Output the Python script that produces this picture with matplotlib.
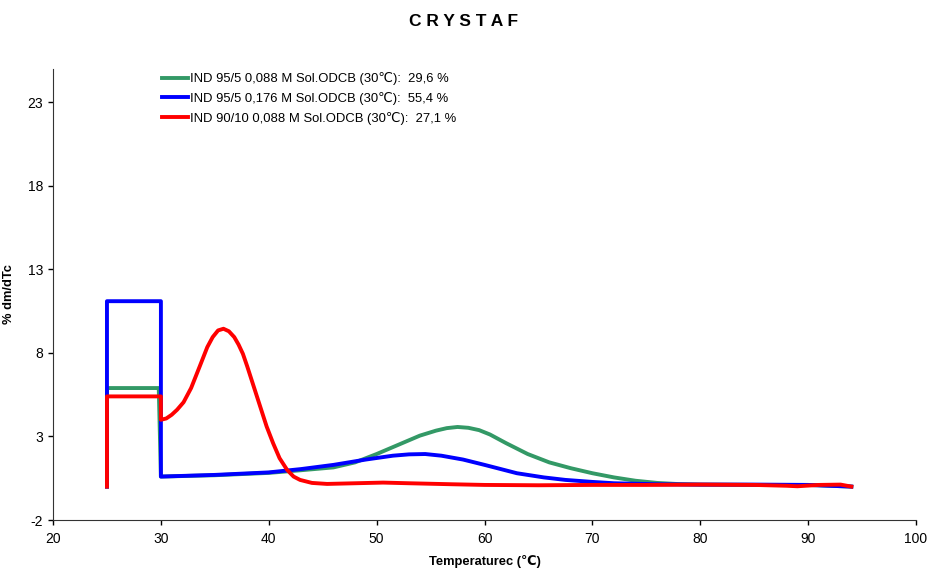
import matplotlib
matplotlib.use("Agg")
from matplotlib import pyplot as plt

plt.rcParams["font.family"] = ["Liberation Sans", "DejaVu Sans"]
plt.rcParams["axes.unicode_minus"] = False

# values
green_label = "IND 95/5 0,088 M Sol.ODCB (30℃):  29,6 %"
green_x = [25, 25, 29.8, 30, 35, 40, 43, 46, 48, 50, 52, 54, 55.5, 56.5, 57.5, 58.5, 59.5,
           60.5, 62, 64, 66, 68, 70, 72, 74, 76, 78, 80, 85, 90, 94]
green_y = [0.0, 5.9, 5.9, 0.6, 0.68, 0.82, 0.98, 1.15, 1.45, 1.95, 2.5, 3.05, 3.35, 3.5,
           3.57, 3.52, 3.38, 3.12, 2.6, 1.95, 1.45, 1.1, 0.8, 0.55, 0.35, 0.22, 0.15,
           0.12, 0.1, 0.1, 0.0]

blue_label = "IND 95/5 0,176 M Sol.ODCB (30℃):  55,4 %"
blue_x = [25, 25, 30, 30, 35, 40, 43, 46, 49, 51.5, 53, 54.5, 56, 58, 60, 63, 65.5, 67.5,
          70, 72, 76, 80, 85, 90, 94]
blue_y = [0.0, 11.1, 11.1, 0.6, 0.7, 0.85, 1.05, 1.3, 1.62, 1.85, 1.93, 1.95, 1.85, 1.62,
          1.3, 0.8, 0.55, 0.4, 0.28, 0.2, 0.14, 0.12, 0.12, 0.1, 0.0]

red_label = "IND 90/10 0,088 M Sol.ODCB (30℃):  27,1 %"
red_x = [25, 25, 30, 30, 30.5, 31, 31.5, 32.1, 32.8, 33.6, 34.3, 34.8, 35.3, 35.8, 36.3,
         36.8, 37.2, 37.6, 38.0, 38.6, 39.2, 39.8, 40.4, 41.0, 41.7, 42.3, 42.9, 44, 45.4,
         48, 50.6, 53, 57, 60, 65, 70, 75, 80, 85, 88, 89, 91, 93, 94]
red_y = [0.0, 5.4, 5.4, 4.0, 4.08, 4.3, 4.6, 5.05, 5.9, 7.2, 8.35, 8.95, 9.35, 9.45, 9.3,
         8.95, 8.5, 7.95, 7.2, 6.0, 4.8, 3.6, 2.6, 1.7, 1.0, 0.6, 0.4, 0.22, 0.16,
         0.2, 0.24, 0.2, 0.14, 0.1, 0.08, 0.1, 0.1, 0.12, 0.1, 0.05, 0.02, 0.1, 0.12, 0.0]

x_ticks = [20, 30, 40, 50, 60, 70, 80, 90, 100]
y_ticks = [-2, 3, 8, 13, 18, 23]

fig = plt.figure(figsize=(9.27, 5.68), dpi=100)
ax = fig.add_axes([0.0572, 0.0845, 0.931, 0.794])

ax.plot(green_x, green_y, color="#339966", lw=2.8, label=green_label)
ax.plot(blue_x, blue_y, color="#0000FF", lw=2.8, label=blue_label)
ax.plot(red_x, red_y, color="#FF0000", lw=2.8, label=red_label)

ax.set_xlim(20, 100)
ax.set_ylim(-2, 25)
ax.set_xticks(x_ticks)
ax.set_yticks(y_ticks)
ax.tick_params(direction="out", length=3.5, width=1, labelsize=10, colors="black")
ax.tick_params(axis="x", pad=5)
for s in ["top", "right"]:
    ax.spines[s].set_visible(False)
for s in ["left", "bottom"]:
    ax.spines[s].set_color("#333333")

ax.set_xlabel("Temperaturec (℃)", fontsize=9.3, fontweight="bold", va="center")
ax.set_ylabel("% dm/dTc", fontsize=9.3, fontweight="bold")
ax.xaxis.set_label_coords(0.5, -0.093)
ax.yaxis.set_label_coords(-0.044, 0.5)

fig.text(0.5, 0.963, "C R Y S T A F", ha="center", va="center",
         fontsize=12.5, fontweight="bold")

ax.legend(loc="upper left", bbox_to_anchor=(0.126, 0.993), frameon=False,
          fontsize=9.4, handlelength=2.0, handletextpad=0.2, labelspacing=0.52,
          borderaxespad=0, borderpad=0)

plt.savefig("out.png", dpi=100)
